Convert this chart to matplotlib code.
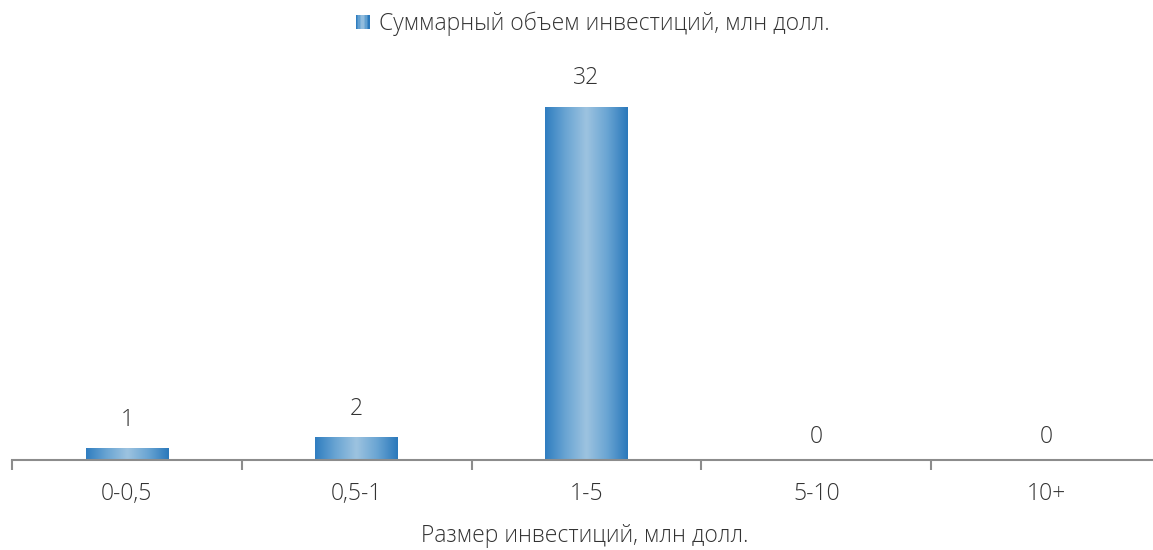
import numpy as np
import matplotlib
matplotlib.use("Agg")
import matplotlib.pyplot as plt
from matplotlib.colors import LinearSegmentedColormap
from matplotlib.patches import Rectangle
from matplotlib.legend_handler import HandlerBase

categories = ["0-0,5", "0,5-1", "1-5", "5-10", "10+"]
values = [1, 2, 32, 0, 0]
series_name = "Суммарный объем инвестиций, млн долл."
x_label = "Размер инвестиций, млн долл."

plt.rcParams["font.family"] = ["Open Sans", "DejaVu Sans"]
plt.rcParams["font.weight"] = "light"
plt.rcParams["axes.labelweight"] = "light"
text_color = "#333333"
axis_color = "#8c8c8c"
fs = 16.5

grad = LinearSegmentedColormap.from_list(
    "bar_grad", ["#2f7dc0", "#6aa5d3", "#9dc3e0", "#6aa5d3", "#2a78bb"])

fig = plt.figure(figsize=(11.53, 5.5), dpi=100)
ax = fig.add_axes([12 / 1153, 90 / 550, 1149 / 1153, 400 / 550])

n = len(categories)
x = np.arange(n)
width = 0.36
bars = ax.bar(x, values, width=width, color="none", edgecolor="none")

ymax = 32 * 400 / 353
gradient = np.linspace(0, 1, 256).reshape(1, -1)
for b in bars:
    h = b.get_height()
    if h <= 0:
        continue
    x0 = b.get_x()
    ax.imshow(gradient, cmap=grad, aspect="auto",
              extent=(x0, x0 + b.get_width(), 0, h), zorder=2,
              interpolation="bicubic")
ax.set_xlim(-0.5, n - 0.5)
ax.set_ylim(0, ymax)

for xi, v in zip(x, values):
    ax.annotate(f"{v}", (xi, v), xytext=(0, 12 if v > 0 else 8),
                textcoords="offset points", ha="center", va="bottom",
                fontsize=fs, color=text_color, fontweight="light")

for s in ["top", "right", "left"]:
    ax.spines[s].set_visible(False)
ax.spines["bottom"].set_color(axis_color)
ax.spines["bottom"].set_linewidth(1.5)
ax.set_yticks([])
ax.set_xticks(np.arange(n + 1) - 0.5, minor=True)
ax.set_xticks(x)
ax.set_xticklabels(categories, fontsize=fs, color=text_color, fontweight="light")
ax.tick_params(axis="x", which="major", length=0, pad=16)
ax.tick_params(axis="x", which="minor", length=7, width=1.5, color=axis_color)
ax.set_xlabel(x_label, fontsize=fs, color=text_color, fontweight="light")
ax.xaxis.set_label_coords((585 - 12) / 1149, -0.16)


class GradientHandler(HandlerBase):
    def create_artists(self, legend, orig_handle, xdescent, ydescent,
                       width, height, fontsize, trans):
        size = 10
        x0 = -xdescent + (width - size) / 2
        y0 = -ydescent + (height - size) / 2
        cols = [grad(t) for t in np.linspace(0, 1, 10)]
        step = size / len(cols)
        arts = []
        for i, c in enumerate(cols):
            arts.append(Rectangle((x0 + i * step, y0), step * 1.1, size,
                                  facecolor=c, edgecolor="none", transform=trans))
        return arts


proxy = Rectangle((0, 0), 1, 1)
fig.legend([proxy], [series_name], handler_map={Rectangle: GradientHandler()},
           loc="center", bbox_to_anchor=(592 / 1153, 1 - 24 / 550),
           frameon=False, fontsize=fs, handlelength=0.75, handleheight=0.7,
           handletextpad=0.35, labelcolor=text_color)

fig.savefig("out.png", dpi=100)
